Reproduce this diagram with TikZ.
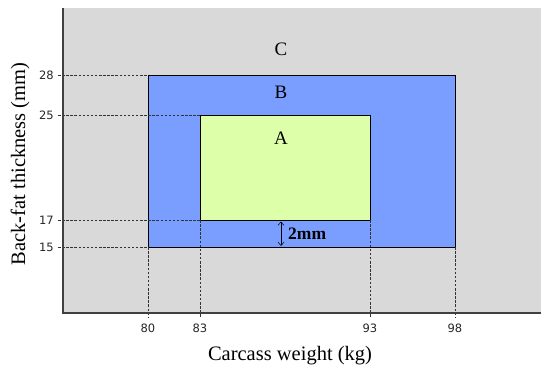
\documentclass[tikz,border=0pt]{standalone}
\usepackage{fontspec}
\setmainfont{Liberation Serif}
\newfontfamily\tickfont{DejaVu Sans}
\usetikzlibrary{arrows.meta}
\definecolor{bgGrey}{HTML}{D9D9D9}
\definecolor{zoneB}{HTML}{7A9EFF}
\definecolor{zoneA}{HTML}{DEFFAA}
\definecolor{axisGrey}{HTML}{404040}
\tikzset{
  zone/.style={draw=black,line width=0.9pt},
  guide/.style={draw=axisGrey!80!black,line width=0.75pt,dash pattern=on 2.5pt off 1.6pt},
  tick/.style={font=\tickfont\fontsize{11.5}{13}\selectfont,inner sep=0pt,text=black!85},
  zonelabel/.style={font=\fontsize{19}{22}\selectfont,inner sep=0pt},
  axislabel/.style={font=\fontsize{20.5}{23}\selectfont,inner sep=0pt}
}
\begin{document}
\begin{tikzpicture}[x=1pt,y=-1pt]
\useasboundingbox (0,0) rectangle (550,375);
% background
\fill[bgGrey] (63,8) rectangle (541,313);
% zones
\draw[zone,fill=zoneB] (148,75) rectangle (455,247);
\draw[zone,fill=zoneA] (200,115) rectangle (370,220);
% coordinates for guides
\coordinate (y28) at (58,75);
\coordinate (y25) at (58,115);
\coordinate (y17) at (58,220);
\coordinate (y15) at (58,247);
\coordinate (x80) at (148,318);
\coordinate (x83) at (200,318);
\coordinate (x93) at (370,318);
\coordinate (x98) at (455,318);
\coordinate (b28) at (148,75);
\coordinate (b25) at (200,115);
\coordinate (b17) at (200,220);
\coordinate (b15) at (148,247);
\coordinate (c80) at (148,247);
\coordinate (c83) at (200,220);
\coordinate (c93) at (370,220);
\coordinate (c98) at (455,247);
\draw[guide] (y28) -- (b28);
\draw[guide] (y25) -- (b25);
\draw[guide] (y17) -- (b17);
\draw[guide] (y15) -- (b15);
\draw[guide] (c80) -- (x80);
\draw[guide] (c83) -- (x83);
\draw[guide] (c93) -- (x93);
\draw[guide] (c98) -- (x98);
% axes
\draw[axisGrey,line width=1.3pt] (63,8) -- (63,313) -- (541,313);
% tick labels
\node[tick,anchor=east] (t28) at (54,75) {28};
\node[tick,anchor=east] (t25) at (54,115) {25};
\node[tick,anchor=east] (t17) at (54,220) {17};
\node[tick,anchor=east] (t15) at (54,247) {15};
\node[tick] (t80) at (148,328) {80};
\node[tick] (t83) at (200,328) {83};
\node[tick] (t93) at (370,328) {93};
\node[tick] (t98) at (455,328) {98};
% zone labels
\node[zonelabel] (C) at (281,49) {C};
\node[zonelabel] (B) at (281,92) {B};
\node[zonelabel] (A) at (281,138) {A};
% 2mm arrow
\coordinate (arT) at (281,221.5);
\coordinate (arB) at (281,246);
\draw[black,line width=0.5pt,{Straight Barb[length=3.5pt,width=6pt]}-{Straight Barb[length=3.5pt,width=6pt]}] (arT) -- (arB);
\node[font=\bfseries\fontsize{17.5}{20}\selectfont,anchor=west,inner sep=0pt] (mm) at (288,234) {2mm};
% axis labels
\node[axislabel] (xl) at (290,356) {Carcass weight (kg)};
\node[axislabel,rotate=90] (yl) at (20,164) {Back-fat thickness (mm)};
\end{tikzpicture}
\end{document}
